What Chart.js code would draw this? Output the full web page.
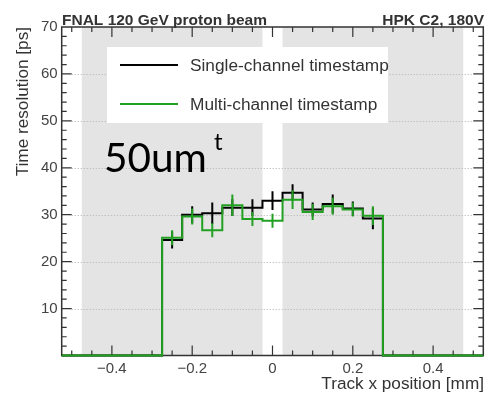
<!DOCTYPE html>
<html lang="en">
<head>
    <meta charset="UTF-8">
    <title>Time resolution vs track x position</title>
    <script src="https://cdn.jsdelivr.net/npm/chart.js@4.4.0/dist/chart.umd.min.js"></script>
    <style>
        html, body { margin: 0; padding: 0; background: #fff; }
        #wrap { width: 487px; height: 395px; }
    </style>
</head>
<body>
    <div id="wrap"><canvas id="resChart" width="487" height="395"></canvas></div>

    <script>
        // bins of 0.05 mm, only the filled ones are listed (others are empty)
        const binCenters = [-0.25, -0.2, -0.15, -0.1, -0.05, 0, 0.05, 0.1, 0.15, 0.2, 0.25];
        const binWidth = 0.05;
        const singleRes = [24.6, 30.0, 30.3, 31.5, 31.5, 33.0, 34.7, 31.1, 32.3, 31.3, 29.2];
        const singleErr = [1.8, 1.8, 2.3, 1.8, 1.8, 2.0, 1.8, 1.5, 2.0, 1.5, 2.3];
        const multiRes  = [25.1, 29.6, 26.7, 32.0, 29.1, 28.7, 33.2, 30.6, 31.8, 31.1, 29.8];
        const multiErr  = [1.6, 1.7, 1.5, 2.3, 1.5, 1.5, 2.0, 1.7, 1.8, 1.5, 2.0];

        const xRange = [-0.525, 0.525];
        const yRange = [0, 70];
        const xTickValues = [-0.4, -0.2, 0, 0.2, 0.4];
        const yTickValues = [0, 10, 20, 30, 40, 50, 60, 70];
        // sensor pad areas (grey bands)
        const padRanges = [[-0.475, -0.025], [0.025, 0.475]];

        const GREEN = '#22a022';
        const AXIS = '#333';

        // step outline: left edge of every bin carries its value
        function histPoints(vals) {
            const pts = [{ x: xRange[0], y: 0 }];
            binCenters.forEach((c, i) => pts.push({ x: c - binWidth / 2, y: vals[i] }));
            pts.push({ x: binCenters[binCenters.length - 1] + binWidth / 2, y: 0 });
            pts.push({ x: xRange[1], y: 0 });
            return pts;
        }

        const errs = [singleErr, multiErr];
        const vals = [singleRes, multiRes];

        const rootPlugin = {
            id: 'rootStyle',
            beforeDraw(chart) {
                const { ctx, chartArea: a, scales: { x } } = chart;
                ctx.save();
                ctx.fillStyle = '#e4e4e4';
                padRanges.forEach(r => {
                    const x0 = x.getPixelForValue(r[0]), x1 = x.getPixelForValue(r[1]);
                    ctx.fillRect(x0, a.top, x1 - x0, a.bottom - a.top);
                });
                ctx.restore();
            },
            beforeDatasetsDraw(chart) {
                const { ctx, chartArea: a, scales: { x, y } } = chart;
                ctx.save();
                // dotted grid at the labelled y ticks
                ctx.strokeStyle = '#b0b0b0';
                ctx.lineWidth = 1;
                ctx.setLineDash([1, 2]);
                ctx.beginPath();
                yTickValues.slice(1, -1).forEach(v => {
                    const py = Math.round(y.getPixelForValue(v)) + 0.5;
                    ctx.moveTo(a.left + 10, py); ctx.lineTo(a.right - 10, py);
                });
                ctx.stroke();
                ctx.setLineDash([]);

                ctx.strokeStyle = AXIS;
                ctx.lineWidth = 1.5;
                ctx.strokeRect(a.left, a.top, a.right - a.left, a.bottom - a.top);
                ctx.lineWidth = 1.2;
                ctx.beginPath();
                // y ticks, inward on both sides
                for (let v = 2; v < 70; v += 2) {
                    const py = y.getPixelForValue(v);
                    const len = v % 10 === 0 ? 10 : 5;
                    ctx.moveTo(a.left, py); ctx.lineTo(a.left + len, py);
                    ctx.moveTo(a.right, py); ctx.lineTo(a.right - len, py);
                }
                // x ticks, inward on both sides
                for (let k = -10; k <= 10; k++) {
                    const px = x.getPixelForValue(k * 0.05);
                    const len = k % 4 === 0 ? 10 : 5;
                    ctx.moveTo(px, a.bottom); ctx.lineTo(px, a.bottom - len);
                    ctx.moveTo(px, a.top); ctx.lineTo(px, a.top + len);
                }
                ctx.stroke();
                ctx.restore();
            },
            afterDatasetDraw(chart, args) {
                const { ctx, scales: { x, y } } = chart;
                const i = args.index;
                ctx.save();
                ctx.strokeStyle = chart.data.datasets[i].borderColor;
                ctx.lineWidth = 2;
                ctx.beginPath();
                binCenters.forEach((c, j) => {
                    const px = x.getPixelForValue(c);
                    ctx.moveTo(px, y.getPixelForValue(vals[i][j] - errs[i][j]));
                    ctx.lineTo(px, y.getPixelForValue(vals[i][j] + errs[i][j]));
                });
                ctx.stroke();
                ctx.restore();
            },
            afterDraw(chart) {
                const { ctx, chartArea: a } = chart;
                ctx.save();
                // legend box
                ctx.fillStyle = '#fff';
                ctx.fillRect(107, 47, 281, 76);
                ctx.lineWidth = 2;
                [['#000', 'Single-channel timestamp', 65], [GREEN, 'Multi-channel timestamp', 104]].forEach(([col, txt, ly]) => {
                    ctx.strokeStyle = col;
                    ctx.beginPath();
                    ctx.moveTo(120, ly); ctx.lineTo(178, ly);
                    ctx.stroke();
                    ctx.fillStyle = '#333';
                    ctx.font = '17.3px "Liberation Sans", Arial, sans-serif';
                    ctx.textBaseline = 'middle';
                    ctx.fillText(txt, 190, ly + 1);
                });

                // header
                ctx.fillStyle = '#333';
                ctx.textBaseline = 'alphabetic';
                ctx.font = 'bold 15.5px "Liberation Sans", Arial, sans-serif';
                ctx.textAlign = 'left';
                ctx.fillText('FNAL 120 GeV proton beam', 62, 25);
                ctx.textAlign = 'right';
                ctx.fillText('HPK C2, 180V', 484, 25);

                // axis titles
                ctx.font = '17.2px "Liberation Sans", Arial, sans-serif';
                ctx.fillText('Track x position [mm]', 484, 389);
                ctx.save();
                ctx.translate(28, a.top);
                ctx.rotate(-Math.PI / 2);
                ctx.fillText('Time resolution [ps]', 0, 0);
                ctx.restore();

                // annotation
                ctx.fillStyle = '#000';
                ctx.textAlign = 'left';
                ctx.font = '40.5px Lato, sans-serif';
                ctx.fillText('50um', 104, 172);
                ctx.font = '24px Lato, sans-serif';
                ctx.fillText('t', 214, 150);
                ctx.restore();
            }
        };

        const chart = new Chart(document.getElementById('resChart'), {
            type: 'line',
            data: {
                datasets: [
                    {
                        label: 'Single-channel timestamp',
                        data: histPoints(singleRes),
                        borderColor: '#000',
                        borderWidth: 2,
                        stepped: true,
                        pointRadius: 0,
                        clip: false,
                        order: 1
                    },
                    {
                        label: 'Multi-channel timestamp',
                        data: histPoints(multiRes),
                        borderColor: GREEN,
                        borderWidth: 2,
                        stepped: true,
                        pointRadius: 0,
                        clip: false,
                        order: 0
                    }
                ]
            },
            options: {
                responsive: false,
                animation: false,
                layout: { padding: { top: 27, right: 3.7, left: 0, bottom: 0 } },
                plugins: { legend: { display: false }, tooltip: { enabled: false } },
                scales: {
                    x: {
                        type: 'linear',
                        min: xRange[0],
                        max: xRange[1],
                        afterBuildTicks: s => { s.ticks = xTickValues.map(v => ({ value: v })); },
                        afterFit: s => { s.height = 39.5; },
                        grid: { display: false, drawTicks: false },
                        border: { display: false },
                        ticks: {
                            color: '#444',
                            font: { family: '"Liberation Sans", Arial', size: 15 },
                            padding: 4,
                            maxRotation: 0,
                            callback: v => v === 0 ? '0' : (v < 0 ? '\u2212' : '') + Math.abs(v).toFixed(1)
                        }
                    },
                    y: {
                        min: yRange[0],
                        max: yRange[1],
                        afterBuildTicks: s => { s.ticks = yTickValues.map(v => ({ value: v })); },
                        afterFit: s => { s.width = 61.7; },
                        grid: { display: false, drawTicks: false },
                        border: { display: false },
                        ticks: {
                            color: '#444',
                            font: { family: '"Liberation Sans", Arial', size: 15 },
                            padding: 4,
                            callback: v => v === 0 ? '' : String(v)
                        }
                    }
                }
            },
            plugins: [rootPlugin]
        });
    </script>
</body>
</html>
